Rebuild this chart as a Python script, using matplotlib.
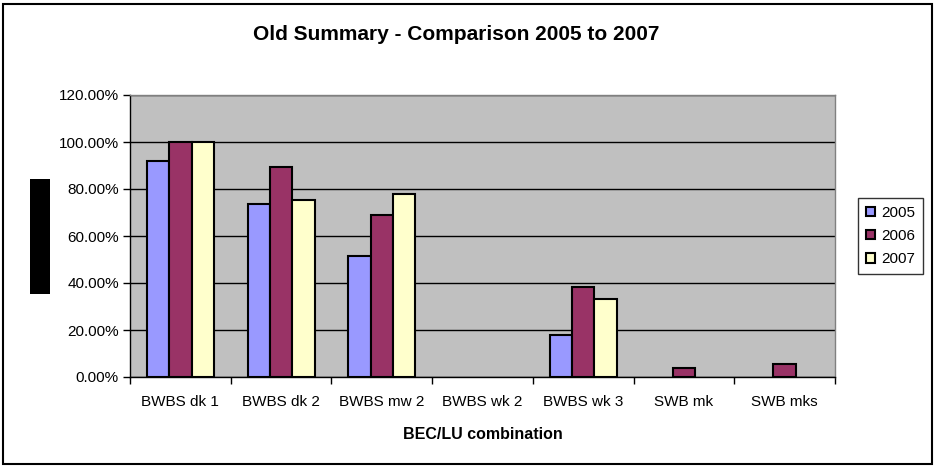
import matplotlib
matplotlib.use("Agg")
import matplotlib.pyplot as plt
import numpy as np
from matplotlib.patches import Rectangle
from matplotlib.ticker import FixedLocator, PercentFormatter

categories = ["BWBS dk 1", "BWBS dk 2", "BWBS mw 2", "BWBS wk 2", "BWBS wk 3", "SWB mk", "SWB mks"]
series_names = ["2005", "2006", "2007"]
v2005 = [92.0, 73.5, 51.3, 0.0, 17.9, 0.0, 0.0]
v2006 = [100.0, 89.4, 68.8, 0.0, 38.2, 4.0, 5.7]
v2007 = [100.0, 75.3, 77.9, 0.0, 33.0, 0.0, 0.0]
colors = ["#9999FF", "#993366", "#FFFFCC"]
yticks = [0, 20, 40, 60, 80, 100, 120]

plt.rcParams['font.family'] = ['Liberation Sans', 'DejaVu Sans']

fig = plt.figure(figsize=(9.35, 4.66), dpi=100)
ax = fig.add_axes([130/935, 1-377/466, (835-130)/935, (377-95)/466])
ax.set_facecolor("#C0C0C0")

x = np.arange(len(categories))
w = 0.222
for i, (vals, name, c) in enumerate(zip([v2005, v2006, v2007], series_names, colors)):
    lws = [1.5 if v > 0 else 0 for v in vals]
    ax.bar(x + (i - 1) * w, vals, width=w, color=c, edgecolor="black", linewidth=lws,
           label=name, zorder=3)

ax.set_xlim(-0.5, len(categories) - 0.5)
ax.set_ylim(0, 120)
ax.set_yticks(yticks)
ax.yaxis.set_major_formatter(PercentFormatter(decimals=2))
ax.set_xticks(x)
ax.set_xticklabels(categories)
ax.xaxis.set_minor_locator(FixedLocator(np.arange(-0.5, len(categories), 1.0)))
ax.tick_params(axis='x', which='major', length=0, labelsize=11, pad=13)
ax.tick_params(axis='x', which='minor', length=5, width=1, direction='out')
ax.tick_params(axis='y', length=5, width=1, direction='out', labelsize=11, pad=3)
ax.grid(axis='y', color='black', linewidth=1, zorder=1)
for s in ['left', 'bottom']:
    ax.spines[s].set_color('black')
    ax.spines[s].set_linewidth(1)
for s in ['top', 'right']:
    ax.spines[s].set_color('#808080')
    ax.spines[s].set_linewidth(1)

ax.set_xlabel("BEC/LU combination", fontsize=11.5, fontweight='bold', labelpad=13)
fig.text(456/935, 1-35/466, "Old Summary - Comparison 2005 to 2007", ha='center', va='center',
         fontsize=15, fontweight='bold')

leg = ax.legend(loc='center left', bbox_to_anchor=(858/935, 1-236/466), bbox_transform=fig.transFigure,
                fontsize=11, frameon=True, fancybox=False, edgecolor='black', handlelength=0.6,
                handleheight=0.6, handletextpad=0.45, borderpad=0.5, labelspacing=0.6,
                borderaxespad=0)
leg.get_frame().set_linewidth(1)

# redaction block on the left
fig.patches.append(Rectangle((30/935, 1-294/466), 20/935, 115/466, transform=fig.transFigure,
                             facecolor='black', edgecolor='none'))
# outer chart border
fig.patches.append(Rectangle((3/935, 2/466), 929/935, 460/466, transform=fig.transFigure,
                             facecolor='none', edgecolor='black', linewidth=1.5))

fig.savefig("out.png", dpi=100)
